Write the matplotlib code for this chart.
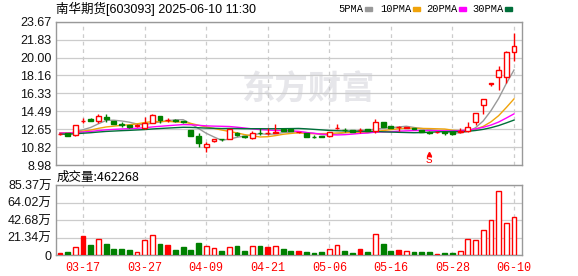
import matplotlib
matplotlib.use("Agg")
import matplotlib.pyplot as plt
from matplotlib.patches import Rectangle
import numpy as np
import pandas as pd

# ---- data ----
title = "南华期货[603093] 2025-06-10 11:30"

# closes before the first visible day, only used to seed the moving averages
prior_closes = [11.85, 11.90, 11.80, 11.95, 11.90, 11.85, 12.00, 11.95, 11.90, 11.88,
                12.10, 12.20, 12.15, 12.30, 12.25, 12.20, 12.30, 12.25, 12.20, 12.30,
                12.35, 12.30, 12.25, 12.40, 12.30, 12.25, 12.35, 12.30, 12.28]

opens = [12.16, 12.23, 12.06, 13.52, 13.70, 13.52, 13.93, 13.49, 13.16, 13.08,
         12.95, 12.74, 13.31, 14.00, 13.59, 13.59, 13.49, 12.57, 11.98, 10.79,
         11.41, 11.63, 11.65, 12.23, 11.95, 11.72, 12.25, 12.23, 12.27, 12.64,
         12.62, 12.35, 12.23, 11.90, 11.95, 11.95, 12.78, 12.57, 12.57, 12.57,
         12.62, 12.43, 13.36, 12.98, 12.85, 12.78, 12.76, 12.57, 12.40, 12.32,
         12.40, 12.38, 12.35, 12.47, 13.36, 15.13, 17.32, 18.03, 18.03, 20.60]
highs = [12.22, 12.25, 13.10, 13.80, 13.77, 14.21, 14.21, 13.52, 13.36, 13.10,
         13.15, 13.87, 14.18, 14.05, 13.77, 13.70, 13.52, 12.60, 12.23, 11.37,
         11.65, 11.68, 12.67, 12.33, 11.98, 12.47, 12.80, 12.80, 13.18, 12.70,
         12.64, 12.40, 12.25, 12.09, 11.98, 12.38, 13.18, 12.77, 12.60, 12.77,
         12.67, 13.70, 13.38, 13.00, 12.98, 12.92, 12.82, 12.60, 12.42, 12.36,
         12.42, 12.40, 12.74, 13.36, 14.30, 15.75, 17.36, 19.13, 20.62, 22.48]
lows = [12.10, 11.93, 11.95, 13.29, 13.44, 13.29, 13.42, 13.15, 12.91, 12.80,
        12.92, 12.70, 13.28, 13.31, 13.42, 13.42, 13.33, 11.95, 10.80, 10.28,
        11.38, 11.41, 11.62, 11.95, 11.79, 11.65, 12.06, 12.06, 12.25, 12.45,
        12.44, 12.30, 11.85, 11.78, 11.80, 11.88, 12.64, 12.33, 12.33, 12.29,
        12.44, 12.29, 12.88, 12.74, 12.50, 12.75, 12.62, 12.38, 12.20, 12.28,
        12.06, 12.06, 12.23, 12.40, 13.08, 14.18, 17.10, 16.67, 17.35, 19.64]
closes = [12.16, 11.95, 13.08, 13.52, 13.46, 14.03, 13.67, 13.18, 13.13, 12.84,
          13.12, 13.25, 14.11, 13.59, 13.59, 13.49, 13.36, 11.98, 11.20, 11.13,
          11.62, 11.61, 12.64, 12.09, 11.82, 12.23, 12.22, 12.23, 12.33, 12.50,
          12.47, 12.35, 11.88, 11.88, 11.86, 12.36, 12.80, 12.55, 12.36, 12.57,
          12.47, 13.36, 12.91, 12.77, 12.85, 12.88, 12.72, 12.40, 12.23, 12.32,
          12.23, 12.16, 12.42, 12.90, 14.28, 15.72, 17.35, 18.72, 20.60, 21.18]
# volume in lots (手)
volumes = [25000, 41000, 99000, 235000, 127000, 198000, 140000, 78000, 78000, 62000,
           37000, 186000, 247000, 140000, 124000, 66000, 103000, 66000, 152000, 111000,
           87000, 53000, 99000, 115000, 53000, 111000, 111000, 99000, 111000, 78000,
           53000, 50000, 41000, 29000, 41000, 74000, 124000, 50000, 29000, 70000,
           41000, 260000, 140000, 50000, 60000, 50000, 41000, 41000, 41000, 16000,
           29000, 20000, 50000, 198000, 186000, 310000, 433000, 780000, 396000, 462268]

tick_pos = [3, 11, 19, 27, 35, 43, 51, 59]
tick_labels = ["03-17", "03-27", "04-09", "04-21", "05-06", "05-16", "05-28", "06-10"]
price_ticks = [8.98, 10.82, 12.65, 14.49, 16.33, 18.16, 20.00, 21.83, 23.67]
vol_ticks = [0, 21.34, 42.68, 64.02, 85.37]   # 万
ma_windows = [5, 10, 20, 30]
ma_colors = ["#999999", "#f0a30a", "#ff00ff", "#006f3a"]
event_idx = 48   # "S" marker

RED = "#ff0000"
GREEN = "#008000"
GRID = "#cccccc"
SPINE = "#999999"

plt.rcParams["font.family"] = ["Liberation Sans", "Noto Sans CJK SC"]

n = len(closes)
x = np.arange(n)
o = np.array(opens); h = np.array(highs); l = np.array(lows); c = np.array(closes)
vol_wan = np.array(volumes) / 1e4

all_close = pd.Series(prior_closes + closes)
mas = [all_close.rolling(w).mean().to_numpy()[len(prior_closes):] for w in ma_windows]

W, H = 578, 276
fig = plt.figure(figsize=(W / 100, H / 100), dpi=100)


def frac(x0, y0, x1, y1):
    return [x0 / W, 1 - y1 / H, (x1 - x0) / W, (y1 - y0) / H]


ax = fig.add_axes(frac(55.7, 21.7, 522.3, 165))
axv = fig.add_axes(frac(55.7, 185.3, 522.3, 255))

for a in (ax, axv):
    a.set_xlim(-0.56, 60.08)
    a.set_axisbelow(True)
    for s in a.spines.values():
        s.set_color(SPINE)
        s.set_linewidth(1)
    a.grid(True, axis="y", color=GRID, lw=0.9, ls="-")
    for t in tick_pos:
        a.axvline(t, color=GRID, lw=0.9, ls=(0, (3, 3)), zorder=0.6)
    a.tick_params(length=0, labelsize=9, colors="#111111", pad=3)

# watermark
ax.text(0.54, 0.52, "东方财富", transform=ax.transAxes, fontsize=24,
        family=["Noto Sans CJK SC"], fontweight="bold", color="#e6e6ea",
        ha="center", va="center", zorder=0.2)

# moving averages
for ma, col in zip(mas, ma_colors):
    ax.plot(x, ma, color=col, lw=1.0, zorder=2)

# candles
bw = 0.62
for i in range(n):
    up = c[i] >= o[i]
    col = RED if up else GREEN
    top, bot = max(o[i], c[i]), min(o[i], c[i])
    ax.vlines(i, top, h[i], color=col, lw=1, zorder=3)
    ax.vlines(i, l[i], bot, color=col, lw=1, zorder=3)
    fc = "white" if c[i] > o[i] else col
    ax.add_patch(Rectangle((i - bw / 2, bot), bw, top - bot, facecolor=fc,
                           edgecolor=col, lw=1, zorder=4))

ax.set_ylim(price_ticks[0], price_ticks[-1])
ax.set_yticks(price_ticks)
ax.set_yticklabels([f"{v:.2f}" for v in price_ticks])
ax.set_xticks(tick_pos)
ax.set_xticklabels([])

# event marker
ax.plot(event_idx, 10.12, marker="^", ms=3, color=RED, zorder=5)
ax.text(event_idx, 9.0, "S", color=RED, fontsize=8, family="Liberation Mono",
        ha="center", va="bottom", zorder=5)

# volume bars
for i in range(n):
    col = RED if c[i] >= o[i] else GREEN
    fc = "white" if c[i] > o[i] else col
    axv.add_patch(Rectangle((i - bw / 2, 0), bw, vol_wan[i], facecolor=fc,
                            edgecolor=col, lw=1, zorder=3))
axv.set_ylim(0, vol_ticks[-1])
axv.set_yticks(vol_ticks)
axv.set_yticklabels(["0"] + [f"{v:.2f}万" for v in vol_ticks[1:]])
axv.set_xticks(tick_pos)
axv.set_xticklabels(tick_labels, color=RED, family="Liberation Mono", fontsize=8.5)
axv.tick_params(axis="x", pad=5)

# header texts
fig.text(56 / W, 1 - 9 / H, title, fontsize=9, va="center", ha="left",
         family=["Liberation Sans", "Noto Sans CJK SC"])
fig.text(57 / W, 1 - 177.5 / H, f"成交量:{volumes[-1]}", fontsize=9, va="center",
         ha="left", family=["Noto Sans CJK SC"])

# MA legend: label followed by a small colour block
leg_x = [338, 380, 426, 472]
for lx, w, col in zip(leg_x, ma_windows, ma_colors):
    fig.text(lx / W, 1 - 9 / H, f"{w}PMA", fontsize=7.5, va="center", ha="left",
             family="Liberation Mono")
    sx = lx + (27 if w < 10 else 33)
    fig.add_artist(Rectangle((sx / W, 1 - 11 / H), 7 / W, 4 / H, color=col,
                             transform=fig.transFigure))

fig.savefig("out.png", dpi=100)
